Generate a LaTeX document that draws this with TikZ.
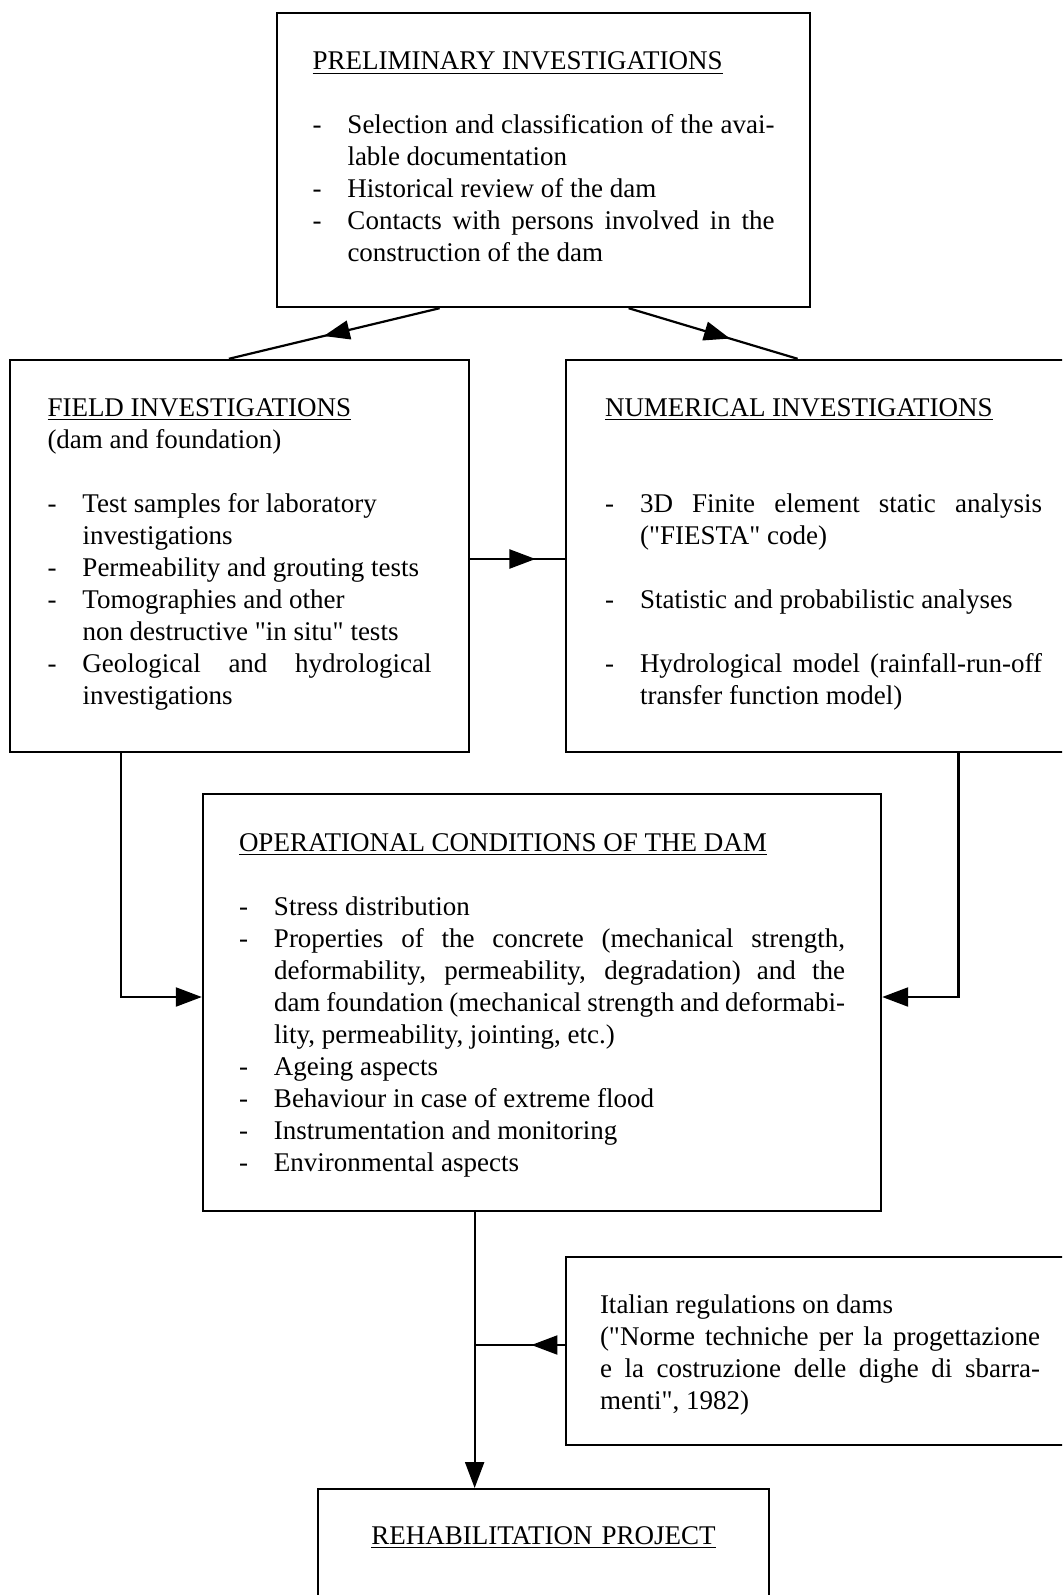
\documentclass[tikz,border=0pt]{standalone}
\usepackage{fontspec}
\setmainfont{Liberation Serif}[Ligatures=TeXOff]
\usetikzlibrary{arrows.meta,calc,decorations.markings}

\tikzset{
    infobox/.style={draw, rectangle, line width=1.2pt, inner sep=0pt,
                    align=justify, font=\fontsize{13.5}{16}\selectfont},
    flowline/.style={line width=1.1pt},
    endarrow/.style={flowline, -{Triangle[length=13pt,width=9.5pt]}},
    midarrow/.style={flowline, postaction={decorate},
                     decoration={markings, mark=at position #1 with {\arrow{Triangle[length=13pt,width=9.5pt]}}}}
}

\begin{document}
\begin{tikzpicture}[x=1pt, y=-1pt]
        \useasboundingbox (0,0) rectangle (531,797.5);
        \clip (0,0) rectangle (531,797.5);

        % Parameters
        \def\itemIndent{17.5pt}         % indent of the text after the dash

        % one item of a list
        \newcommand{\dashItem}[1]{\par\noindent\hangindent=\itemIndent\hangafter=1\makebox[\itemIndent][l]{-}#1\par}
        % empty line
        \newcommand{\blankLine}{\par\vspace{16pt}}
        % extra space below the text (moves the centred text up by half of it)
        \newcommand{\tailSpace}[1]{\par\vspace{#1}\hrule height 0pt width 0pt}

        % Boxes
        \node[infobox, minimum width=266.5pt, minimum height=147pt, text width=231pt] (prelim) at (271.75,80) {
            \underline{PRELIMINARY INVESTIGATIONS}
            \blankLine
            \dashItem{Selection and classification of the avai-\linebreak lable documentation}
            \dashItem{Historical review of the dam}
            \dashItem{Contacts with persons involved in the\linebreak construction of the dam}
            \tailSpace{3pt}
        };

        \node[infobox, minimum width=229.5pt, minimum height=196pt, text width=192pt] (field) at (119.75,278) {
            \underline{FIELD INVESTIGATIONS}\newline
            (dam and foundation)
            \blankLine
            \dashItem{Test samples for laboratory\newline investigations}
            \dashItem{Permeability and grouting tests}
            \dashItem{Tomographies and other\newline non destructive "in situ" tests}
            \dashItem{Geological and hydrological\linebreak investigations}
            \tailSpace{2pt}
        };

        \node[infobox, minimum width=257.5pt, minimum height=196pt, text width=218.5pt] (numer) at (411.75,278) {
            \underline{NUMERICAL INVESTIGATIONS}
            \par\vspace{32pt}
            \dashItem{3D Finite element static analysis\linebreak ("FIESTA" code)}
            \blankLine
            \dashItem{Statistic and probabilistic analyses}
            \blankLine
            \dashItem{Hydrological model (rainfall-run-off\linebreak transfer function model)}
            \tailSpace{2pt}
        };

        \node[infobox, minimum width=339pt, minimum height=208.5pt, text width=303pt] (oper) at (271,501.25) {
            \underline{OPERATIONAL CONDITIONS OF THE DAM}
            \blankLine
            \dashItem{Stress distribution}
            \dashItem{Properties of the concrete (mechanical strength,\linebreak deformability, permeability, degradation) and the\linebreak dam foundation (mechanical strength and deformabi-\linebreak lity, permeability, jointing, etc.)}
            \dashItem{Ageing aspects}
            \dashItem{Behaviour in case of extreme flood}
            \dashItem{Instrumentation and monitoring}
            \dashItem{Environmental aspects}
            \tailSpace{-3pt}
        };

        \node[infobox, minimum width=254pt, minimum height=94pt, text width=220pt] (italy) at (410,675.5) {
            Italian regulations on dams\newline
            ("Norme techniche per la progettazione\linebreak e la costruzione delle dighe di sbarra-\linebreak menti", 1982)
            \tailSpace{-4pt}
        };

        \node[infobox, anchor=north, minimum width=225.5pt, text width=200pt, align=center,
              text height=27.5pt, text depth=60pt] (rehab) at (271.75,744)
        {\underline{REHABILITATION PROJECT}};

        % Connectors
        \draw[midarrow=0.55] ($(prelim.south west)!0.306!(prelim.south east)$) -- ($(field.north west)!0.477!(field.north east)$);
        \draw[midarrow=0.6] ($(prelim.south west)!0.659!(prelim.south east)$) -- ($(numer.north west)!0.45!(numer.north east)$);
        \draw[midarrow=0.69] ([yshift=-1.5pt]field.east) -- ([yshift=-1.5pt]numer.west);

        \draw[endarrow] ($(field.south west)!0.244!(field.south east)$) |- ([yshift=2.75pt]oper.west);
        \draw[endarrow] ($(numer.south west)!0.761!(numer.south east)$) |- ([yshift=2.75pt]oper.east);

        %operational conditions to project, with the regulations joining
        \draw[endarrow] ($(oper.south west)!0.401!(oper.south east)$) coordinate (split) -- (split |- rehab.north);
        \draw[midarrow=0.37] ([yshift=3pt]italy.west) -- ([yshift=3pt]italy.west -| split);
\end{tikzpicture}
\end{document}
